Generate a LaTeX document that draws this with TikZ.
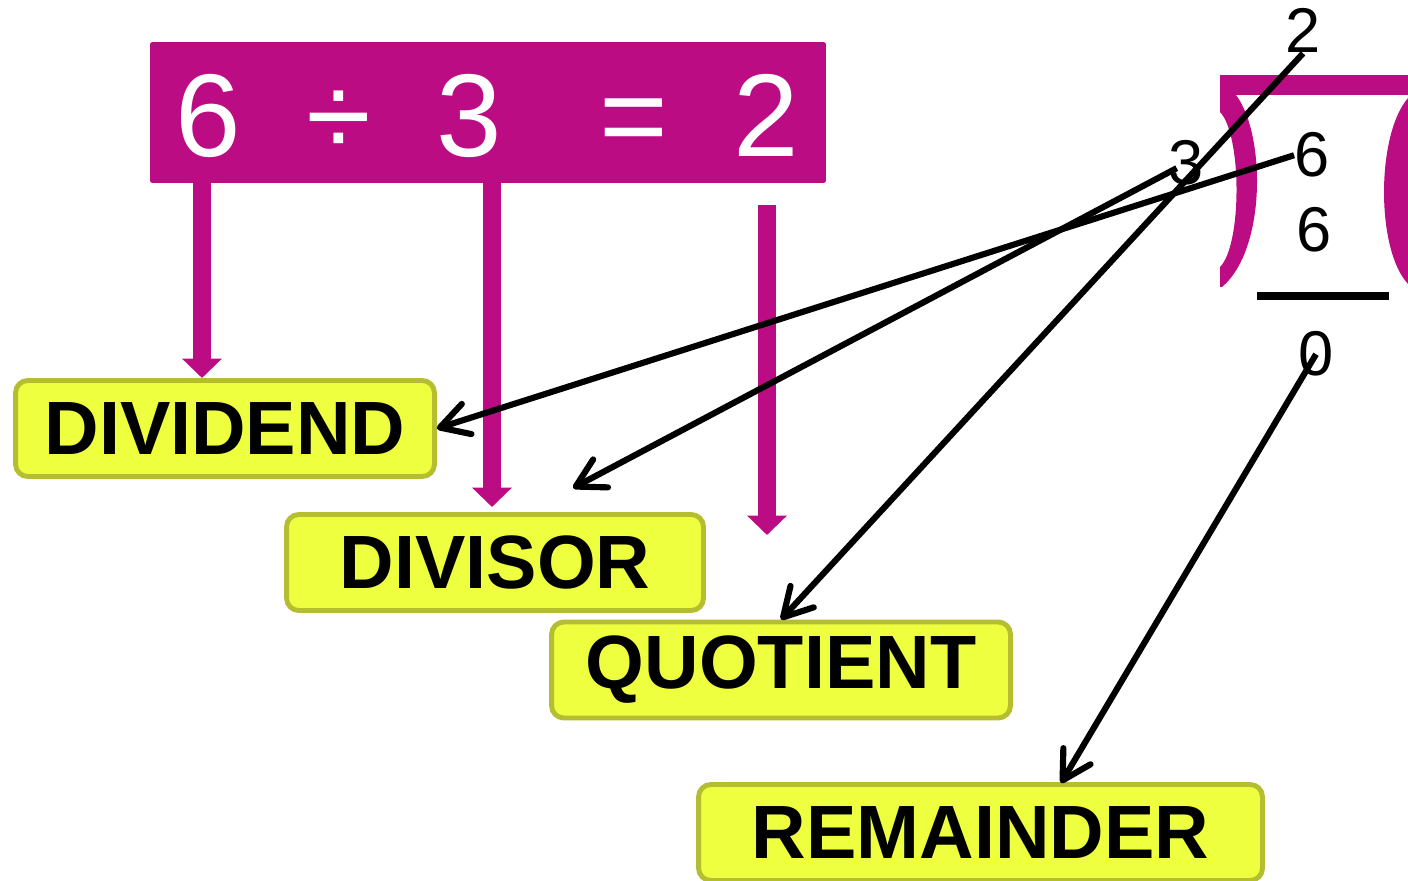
\documentclass[tikz,border=0pt]{standalone}
\usepackage{fontspec}
\setmainfont{Liberation Sans}
\usetikzlibrary{arrows.meta}

\definecolor{eqmagenta}{RGB}{188,12,132}
\definecolor{termyellow}{RGB}{238,255,64}
\definecolor{termborder}{RGB}{181,190,48}

\begin{document}
\begin{tikzpicture}[x = 0.02cm, y = -0.02cm,
                    term/.style = {draw = termborder,
                                   line width = 2.8pt,
                                   fill = termyellow,
                                   rounded corners = 7pt,
                                   minimum height = 1.92cm,
                                   font = \fontsize{43}{50}\selectfont\bfseries},
                    bignum/.style = {text = white, inner sep = 0pt, anchor = base,
                                     font = \fontsize{67}{80}\selectfont},
                    smallnum/.style = {inner sep = 0pt, anchor = base,
                                       font = \fontsize{36}{43}\selectfont},
                    drop/.style = {draw = eqmagenta, line width = 10pt,
                                   -{Triangle[length = 11pt, width = 22pt]}},
                    pointer/.style = {draw, line width = 3.5pt,
                                      -{Straight Barb[length = 16pt, width = 18pt, round]}}]

\useasboundingbox (0,0) rectangle (1408,881);

% the equation
\node[fill = eqmagenta, minimum width = 13.52cm, minimum height = 2.82cm,
      rounded corners = 1pt] (eq) at (488,112.5) {};
\node[bignum] (six)    at (208,157) {6};
\node[bignum] (obelus) at (339,157) {÷};
\node[bignum] (three)  at (469,157) {3};
\node[bignum] (equal)  at (634,157) {=};
\node[bignum] (two)    at (766,157) {2};

% the names
\node[term, minimum width = 8.38cm]  (dividend)  at (225,428.5) {DIVIDEND};
\node[term, minimum width = 8.34cm]  (divisor)   at (495,562.5) {DIVISOR};
\node[term, minimum width = 9.18cm]  (quotient)  at (781,670)   {QUOTIENT};
\node[term, minimum width = 11.28cm] (remainder) at (980.5,832.5) {REMAINDER};

% long division
\fill[eqmagenta] (1220,75) rectangle (1410,95);
\fill[eqmagenta] (1220,95) -- (1236,95) .. controls (1266,135) and (1266,250) .. (1222,287)
                 -- (1220,287) -- (1220,267) .. controls (1242,245) and (1242,135) .. (1220,112) -- cycle;
\fill[eqmagenta] (1410,98) -- (1408,98) .. controls (1376,135) and (1376,250) .. (1408,284)
                 -- (1410,284) -- cycle;

\node[smallnum] (qtwo)   at (1303,53)  {2};
\node[smallnum] (dthree) at (1186,185) {3};
\node[smallnum] (dsix)   at (1312,177) {6};
\node[smallnum] (psix)   at (1314,252) {6};
\node[smallnum] (rzero)  at (1316,376) {0};
\draw[line width = 4pt] (1257,296) -- (1389,296);

% magenta arrows
\coordinate (dividendtip) at (202,378);
\coordinate (divisortip)  at (492,507);
\coordinate (quotienttip) at (767,535);

\draw[drop] (eq.south -| dividendtip) -- (dividendtip);
\draw[drop] (eq.south -| divisortip)  -- (divisortip);
\draw[drop] ([yshift = -0.44cm]eq.south -| quotienttip) -- (quotienttip);

% black arrows
\coordinate (divisorend)   at (573,488);
\coordinate (remainderend) at (1061,783);

\draw[pointer] (dsix.west) -- (dividend.east);
\draw[pointer, shorten <= 6pt] (dthree.center) -- (divisorend);
\draw[pointer] (qtwo.south) -- (quotient.north);
\draw[pointer] (rzero.center) -- (remainderend);

\end{tikzpicture}
\end{document}
